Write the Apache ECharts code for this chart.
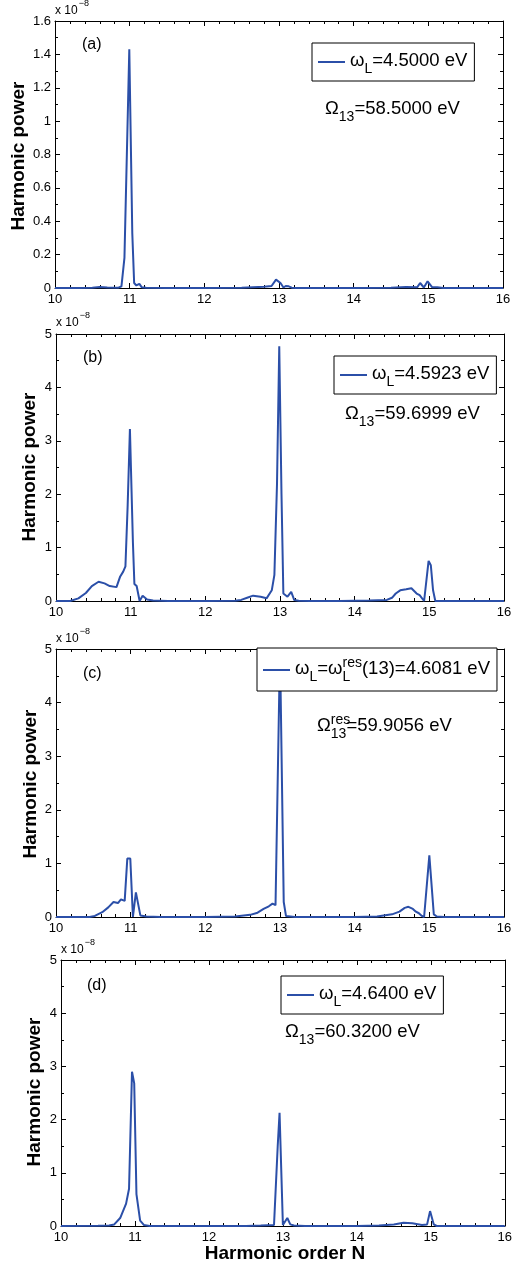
<!DOCTYPE html>
<html><head><meta charset="utf-8">
<script src="https://cdn.jsdelivr.net/npm/echarts@6/dist/echarts.min.js"></script>
<style>html,body{margin:0;padding:0;background:#fff}#c{width:515px;height:1266px}</style>
</head><body><div id="c"></div>
<script>
// ---- data (harmonic power in units of 1e-8) ----
const xMin = 10, xMax = 16, xStep = 1;

const xA = [10, 10.3, 10.5, 10.6, 10.7, 10.85, 10.89, 10.93, 10.995, 11.035, 11.06, 11.09, 11.13, 11.16, 11.22, 11.5, 12.0, 12.5, 12.8, 12.9, 12.96, 13.02, 13.06, 13.09, 13.13, 13.17, 13.22, 13.5, 14.0, 14.5, 14.7, 14.85, 14.89, 14.94, 14.99, 15.05, 15.12, 15.2, 15.5, 16];
const yA = [0, 0, 0.002, 0.006, 0.003, 0.002, 0.01, 0.18, 1.43, 0.33, 0.03, 0.015, 0.025, 0.005, 0.002, 0, 0, 0.002, 0.008, 0.012, 0.05, 0.03, 0.003, 0.012, 0.01, 0.002, 0, 0, 0, 0.002, 0.006, 0.004, 0.03, 0.003, 0.04, 0.005, 0.004, 0, 0, 0];

const xB = [10, 10.19, 10.3, 10.4, 10.48, 10.57, 10.65, 10.72, 10.81, 10.86, 10.9, 10.93, 10.96, 10.99, 11.03, 11.05, 11.08, 11.12, 11.16, 11.22, 11.3, 11.5, 12.0, 12.4, 12.48, 12.56, 12.64, 12.74, 12.82, 12.89, 12.925, 12.96, 12.99, 13.02, 13.045, 13.1, 13.15, 13.19, 13.25, 13.4, 13.8, 14.2, 14.43, 14.5, 14.55, 14.61, 14.69, 14.76, 14.83, 14.87, 14.93, 14.99, 15.02, 15.05, 15.08, 15.2, 16];
const yB = [0, 0, 0.05, 0.15, 0.28, 0.36, 0.33, 0.28, 0.26, 0.46, 0.55, 0.65, 1.8, 3.22, 1.1, 0.32, 0.28, 0, 0.1, 0.03, 0.01, 0, 0, 0.005, 0.02, 0.06, 0.1, 0.08, 0.05, 0.2, 0.49, 2.2, 4.77, 2.0, 0.14, 0.08, 0.17, 0.02, 0.005, 0, 0, 0.01, 0.02, 0.06, 0.14, 0.2, 0.22, 0.24, 0.14, 0.11, 0, 0.75, 0.67, 0.2, 0, 0, 0];

const xC = [10, 10.45, 10.52, 10.62, 10.7, 10.77, 10.83, 10.87, 10.92, 10.955, 10.995, 11.03, 11.07, 11.13, 11.21, 11.4, 12.0, 12.4, 12.6, 12.7, 12.78, 12.85, 12.9, 12.94, 13.0, 13.05, 13.08, 13.2, 13.6, 14.0, 14.3, 14.5, 14.6, 14.67, 14.72, 14.78, 14.82, 14.86, 14.9, 14.93, 15.0, 15.06, 15.1, 15.2, 16];
const yC = [0, 0, 0.02, 0.09, 0.18, 0.28, 0.26, 0.33, 0.3, 1.09, 1.09, 0, 0.46, 0.03, 0.01, 0, 0, 0.01, 0.04, 0.08, 0.15, 0.2, 0.25, 0.22, 5.0, 0.28, 0.02, 0, 0, 0, 0.01, 0.05, 0.1, 0.17, 0.19, 0.15, 0.1, 0.07, 0.02, 0, 1.15, 0.05, 0.01, 0, 0];

const xD = [10, 10.5, 10.65, 10.72, 10.8, 10.88, 10.92, 10.96, 10.99, 11.02, 11.07, 11.12, 11.2, 12.0, 12.5, 12.7, 12.88, 12.93, 12.955, 13.0, 13.06, 13.1, 13.15, 13.3, 14.0, 14.3, 14.5, 14.63, 14.75, 14.88, 14.95, 14.99, 15.04, 15.08, 15.5, 16];
const yD = [0, 0.005, 0.01, 0.03, 0.15, 0.42, 0.7, 2.9, 2.68, 0.6, 0.1, 0.02, 0, 0, 0, 0.01, 0.02, 1.5, 2.13, 0.02, 0.15, 0.03, 0.01, 0, 0, 0.01, 0.03, 0.06, 0.05, 0.02, 0.03, 0.28, 0.03, 0, 0, 0];

const yMaxes = [1.6, 5, 5, 5];
const yIntervals = [0.2, 1, 1, 1];
const seriesNames = ['A', 'B', 'C', 'D'];
const panelLabels = ['(a)', '(b)', '(c)', '(d)'];
const legendTexts = [
  '{b|ω}{s|L}{b|=4.5000 eV}',
  '{b|ω}{s|L}{b|=4.5923 eV}',
  '{b|ω}{s|L}{b|=ω}{s0|L}{p|res}{b|(13)=4.6081 eV}',
  '{b|ω}{s|L}{b|=4.6400 eV}'
];
const omegaTexts = [
  '{b|Ω}{s|13}{b|=58.5000 eV}',
  '{b|Ω}{s|13}{b|=59.6999 eV}',
  '{b|Ω}{p0|res}{s|13}{b|=59.9056 eV}',
  '{b|Ω}{s|13}{b|=60.3200 eV}'
];
const scaleText = '{a|x 10}{e|−8}';
const yTitle = 'Harmonic power';
const xTitle = 'Harmonic order N';

// ---- layout ----
const FONT = "'Liberation Sans', Arial, Helvetica, sans-serif";
const BLUE = '#2b4fa8';
const grids = [
  {left: 55, top: 21, width: 448, height: 267},
  {left: 56, top: 334, width: 448, height: 267},
  {left: 56, top: 649, width: 448, height: 268},
  {left: 61, top: 960, width: 448, height: 266}
];
const legendPos = [
  {left: 312, top: 43, padding: [5, 7, 5, 6]},
  {left: 334, top: 356, padding: [5, 7, 5, 6]},
  {left: 257, top: 648, padding: [8, 7, 7, 6]},
  {left: 281, top: 976, padding: [5, 7, 5, 6]}
];
const omegaPos = [[325, 100], [345, 405], [317, 717], [285, 1023]];
const labelPos = [[82, 45], [83, 358], [83, 674], [87, 986]];
const scalePos = [[55, 1], [56, 313], [56, 629], [61, 940]];
const yTitlePos = [[19, 156], [30, 467], [31, 784], [35, 1092]];

const rich = {
  b: {fontSize: 18.5, lineHeight: 20, padding: [3, 0, 5, 0], fontFamily: FONT, color: '#000'},
  s: {fontSize: 14, lineHeight: 14, padding: [14, 0, 0, 0], fontFamily: FONT, color: '#000'},
  s0: {fontSize: 14, lineHeight: 14, padding: [14, 0, 0, 0], width: 0, fontFamily: FONT, color: '#000'},
  p: {fontSize: 14, lineHeight: 14, padding: [0, 0, 14, 0], fontFamily: FONT, color: '#000'},
  p0: {fontSize: 14, lineHeight: 14, padding: [0, 0, 14, 0], width: 0, fontFamily: FONT, color: '#000'}
};
const scaleRich = {
  a: {fontSize: 12, lineHeight: 14, padding: [5, 0, 0, 0], fontFamily: FONT, color: '#000'},
  e: {fontSize: 9, lineHeight: 10, padding: [0, 0, 9, 1], fontFamily: FONT, color: '#000'}
};

const xs = [xA, xB, xC, xD], ys = [yA, yB, yC, yD];

const axisCommon = {
  axisLine: {show: true, onZero: false, lineStyle: {color: '#000', width: 1}},
  axisTick: {show: true, inside: true, length: 5, lineStyle: {color: '#000', width: 1}},
  minorTick: {show: true, length: 3, lineStyle: {color: '#000', width: 1}},
  splitLine: {show: false}
};

const xBottom = [], xTop = [], yLeft = [], yRight = [], series = [], legends = [], graphics = [];
for (let i = 0; i < 4; i++) {
  for (const pos of ['bottom', 'top']) {
    const xa = Object.assign({}, axisCommon, {
      type: 'value', gridIndex: i, position: pos, min: xMin, max: xMax, interval: xStep,
      minorTick: Object.assign({}, axisCommon.minorTick, {splitNumber: 5}),
      axisLabel: {show: pos === 'bottom', color: '#000', fontSize: 13, fontFamily: FONT, margin: 5}
    });
    const ya = Object.assign({}, axisCommon, {
      type: 'value', gridIndex: i, position: pos === 'bottom' ? 'left' : 'right',
      min: 0, max: yMaxes[i], interval: yIntervals[i],
      minorTick: Object.assign({}, axisCommon.minorTick, {splitNumber: 2}),
      axisLabel: {show: pos === 'bottom', color: '#000', fontSize: 13, fontFamily: FONT, margin: 4}
    });
    (pos === 'bottom' ? xBottom : xTop).push(xa);
    (pos === 'bottom' ? yLeft : yRight).push(ya);
  }
}

for (let i = 0; i < 4; i++) {
  series.push({
    type: 'line', name: seriesNames[i], xAxisIndex: i, yAxisIndex: i,
    data: xs[i].map((x, k) => [x, ys[i][k]]),
    symbol: 'none', smooth: false, clip: true,
    lineStyle: {color: BLUE, width: 2}, itemStyle: {color: BLUE},
    emphasis: {disabled: true}
  });
  legends.push({
    data: [seriesNames[i]], left: legendPos[i].left, top: legendPos[i].top,
    padding: legendPos[i].padding, orient: 'horizontal',
    backgroundColor: '#fff', borderColor: '#000', borderWidth: 1, borderRadius: 0,
    icon: 'rect', itemWidth: 27, itemHeight: 2, selectedMode: false,
    itemStyle: {color: BLUE},
    formatter: () => legendTexts[i],
    textStyle: {rich: rich, color: '#000'}
  });
  graphics.push({
    type: 'text', x: omegaPos[i][0], y: omegaPos[i][1], z: 10,
    style: {text: omegaTexts[i], rich: rich, fill: '#000', align: 'left', verticalAlign: 'top'}
  });
  graphics.push({
    type: 'text', x: labelPos[i][0], y: labelPos[i][1], z: 10,
    style: {text: panelLabels[i], font: '16px ' + FONT, fill: '#000', align: 'left', verticalAlign: 'middle'}
  });
  graphics.push({
    type: 'text', x: scalePos[i][0], y: scalePos[i][1], z: 10,
    style: {text: scaleText, rich: scaleRich, fill: '#000', align: 'left', verticalAlign: 'top'}
  });
  graphics.push({
    type: 'text', x: yTitlePos[i][0], y: yTitlePos[i][1], rotation: Math.PI / 2, z: 10,
    style: {text: yTitle, font: 'bold 19px ' + FONT, fill: '#000', align: 'center', verticalAlign: 'middle'}
  });
}
graphics.push({
  type: 'text', x: 285, y: 1254, z: 10,
  style: {text: xTitle, font: 'bold 19px ' + FONT, fill: '#000', align: 'center', verticalAlign: 'middle'}
});

const chart = echarts.init(document.getElementById('c'), null, {renderer: 'canvas'});
chart.setOption({
  animation: false,
  backgroundColor: '#fff',
  grid: grids.map(g => Object.assign({containLabel: false, show: false}, g)),
  xAxis: xBottom.concat(xTop),
  yAxis: yLeft.concat(yRight),
  legend: legends,
  series: series,
  graphic: {elements: graphics}
});
</script></body></html>
